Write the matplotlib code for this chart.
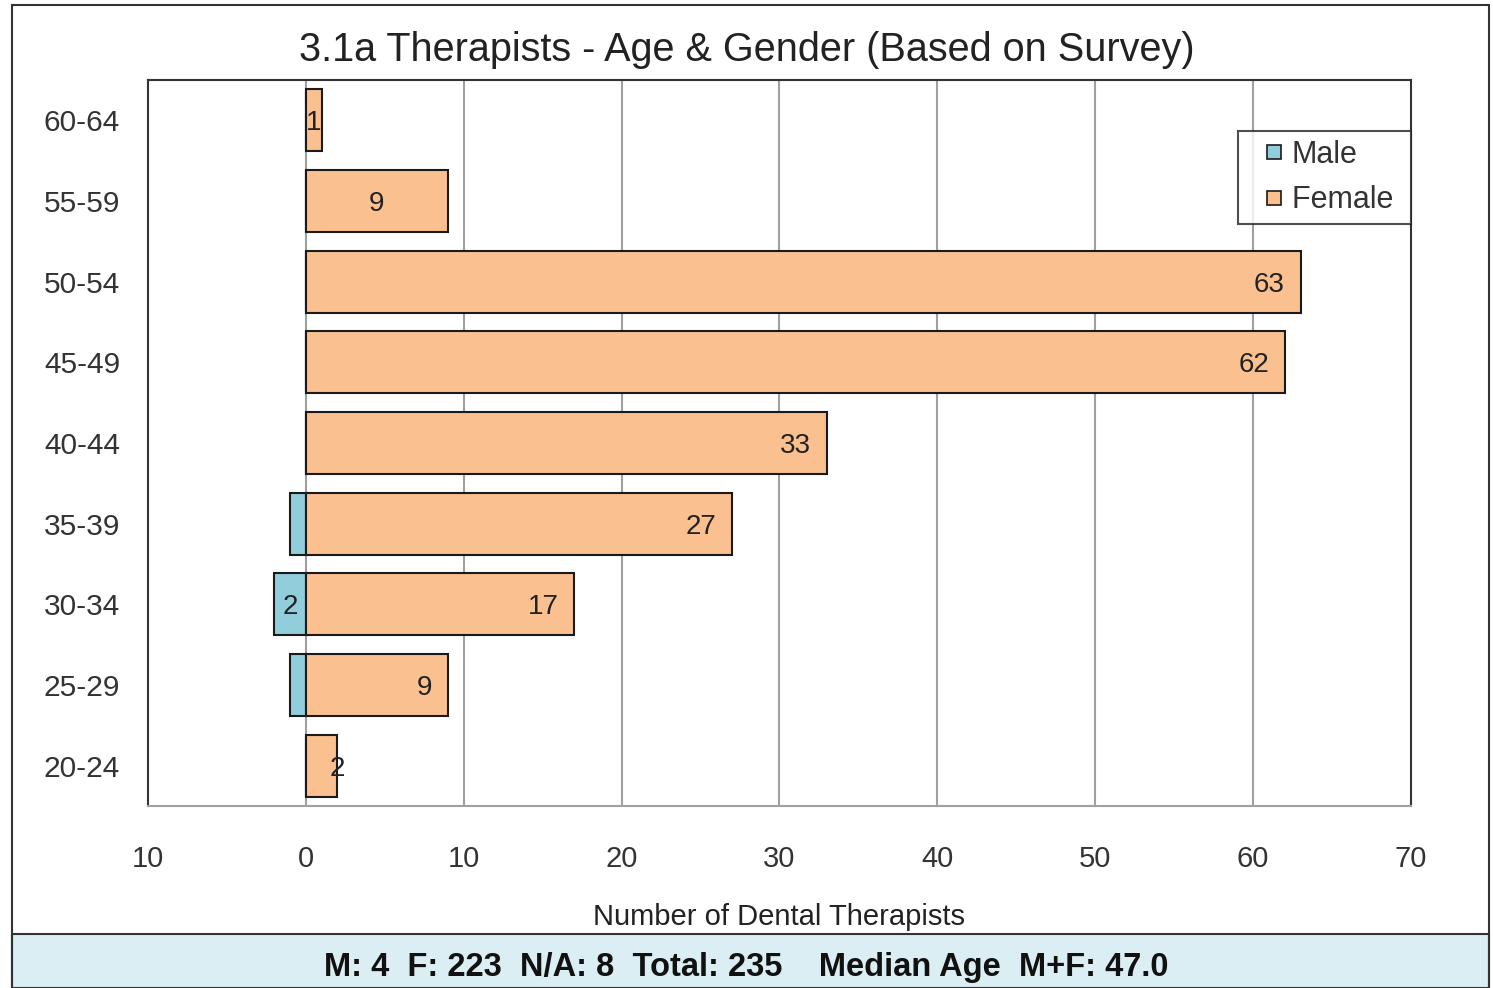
import matplotlib
matplotlib.use("Agg")
import matplotlib.pyplot as plt
from matplotlib.patches import Rectangle
from matplotlib.lines import Line2D

plt.rcParams['font.family'] = ['Liberation Sans', 'DejaVu Sans']

age_groups = ["20-24", "25-29", "30-34", "35-39", "40-44", "45-49", "50-54", "55-59", "60-64"]
male = [0, 1, 2, 1, 0, 0, 0, 0, 0]
female = [2, 9, 17, 27, 33, 62, 63, 9, 1]
# where each female label sits: 'end' = inside the bar end, 'center' = middle
female_label_mode = ["value", "end", "end", "end", "end", "end", "end", "center", "center"]
male_labels = ["", "", "2", "", "", "", "", "", ""]
x_ticks = [-10, 0, 10, 20, 30, 40, 50, 60, 70]
x_tick_labels = ["10", "0", "10", "20", "30", "40", "50", "60", "70"]

male_color = "#92CDDC"
female_color = "#FAC090"
edge = "#1a1a1a"

fig = plt.figure(figsize=(14.93, 9.88), dpi=100)
ax = fig.add_axes([0.0991, 0.1842, 0.846, 0.7348])

pos = list(range(len(age_groups)))
neg_male = [-m for m in male]
ax.barh(pos, neg_male, height=0.77, color=male_color, edgecolor=edge, linewidth=1.5, zorder=3)
ax.barh(pos, female, height=0.77, color=female_color, edgecolor=edge, linewidth=1.5, zorder=3)

lab_kw = dict(va="center_baseline", fontsize=20, color="#222222", zorder=4)
for i, v in enumerate(female):
    mode = female_label_mode[i]
    if mode == "end":
        ax.text(v - 1.0, i, str(v), ha="right", **lab_kw)
    elif mode == "center":
        ax.text(v / 2, i, str(v), ha="center", **lab_kw)
    else:
        ax.text(v, i, str(v), ha="center", **lab_kw)

for i, lab in enumerate(male_labels):
    if lab:
        ax.text(-male[i] / 2, i, lab, ha="center", **lab_kw)

ax.set_xlim(-10, 70)
ax.set_ylim(-0.5, len(age_groups) - 0.5)
ax.set_xticks(x_ticks)
ax.set_xticklabels(x_tick_labels)
ax.set_yticks(pos)
ax.set_yticklabels(age_groups)
ax.tick_params(axis="x", length=0, pad=28, labelsize=21, labelcolor="#333333")
ax.tick_params(axis="y", length=0, pad=20, labelsize=21.5, labelcolor="#333333")

for xv in x_ticks[1:-1]:
    ax.axvline(xv, color="#a0a0a0", linewidth=1.5, zorder=1)

for side in ["left", "top", "right"]:
    ax.spines[side].set_color("#333333")
    ax.spines[side].set_linewidth(1.5)
ax.spines["bottom"].set_color("#a0a0a0")
ax.spines["bottom"].set_linewidth(1.5)

ax.set_xlabel("Number of Dental Therapists", fontsize=21, color="#222222", labelpad=22)

handles = [
    Line2D([], [], linestyle="none", marker="s", markersize=10, markerfacecolor=male_color,
           markeredgecolor=edge, markeredgewidth=1.2),
    Line2D([], [], linestyle="none", marker="s", markersize=10, markerfacecolor=female_color,
           markeredgecolor=edge, markeredgewidth=1.2),
]
# trailing space gives the wider right margin of the original legend box
leg = ax.legend(handles, ["Male", "Female "], loc="upper right", bbox_to_anchor=(1.0, 0.93),
                borderaxespad=0, fontsize=22, frameon=True, fancybox=False, handlelength=1.77,
                handletextpad=-0.3, labelspacing=0.5, borderpad=0.3)
leg.get_frame().set_edgecolor("#222222")
leg.get_frame().set_linewidth(1.5)
for t in leg.get_texts():
    t.set_color("#333333")

fig.text(0.5, 0.949, "3.1a Therapists - Age & Gender (Based on Survey)", ha="center", va="center",
         fontsize=28.5, color="#222222")

# footer band and outer frame
fig.patches.append(Rectangle((12 / 1493, 0), 1477 / 1493, 54 / 988, transform=fig.transFigure,
                             facecolor="#DAEEF3", edgecolor="#333333", linewidth=1.5, zorder=0))
fig.patches.append(Rectangle((12 / 1493, -0.01), 1477 / 1493, 983 / 988 + 0.01, transform=fig.transFigure,
                             facecolor="none", edgecolor="#333333", linewidth=1.5, zorder=0))
fig.text(0.5, 0.021, "M: 4  F: 223  N/A: 8  Total: 235    Median Age  M+F: 47.0", ha="center",
         va="center", fontsize=23.5, fontweight="bold", color="#111111")

fig.savefig("out.png", dpi=100)
